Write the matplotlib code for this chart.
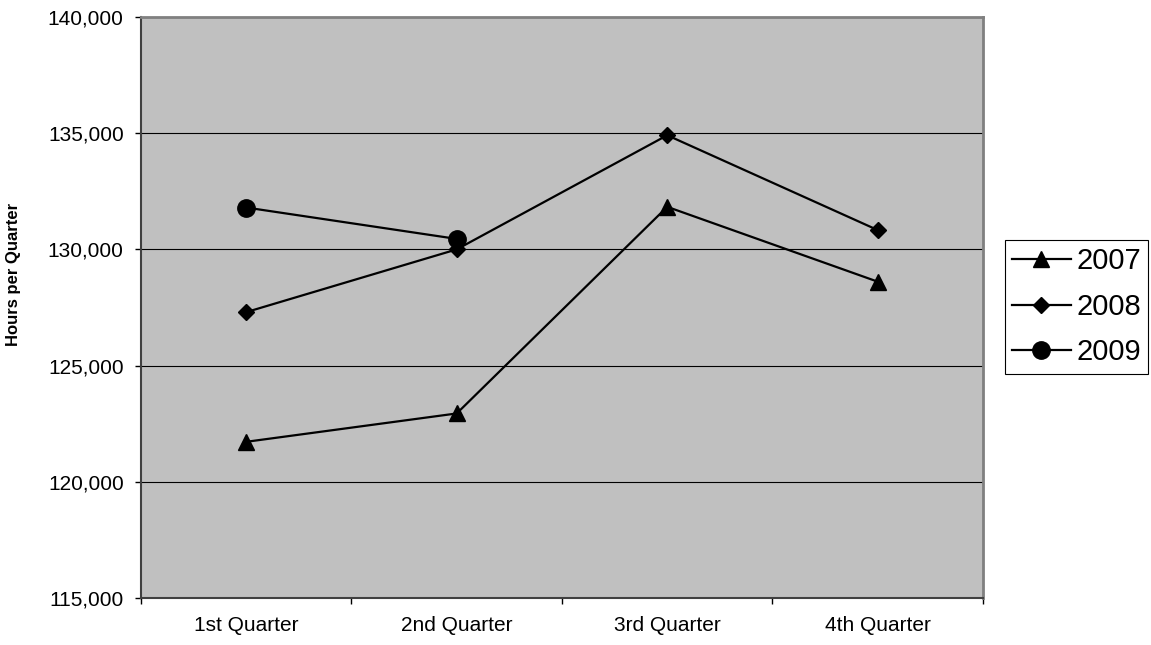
import matplotlib
matplotlib.use('Agg')
import matplotlib.pyplot as plt
from matplotlib.ticker import FuncFormatter, FixedLocator

plt.rcParams['font.family'] = ['Liberation Sans', 'DejaVu Sans']

quarters = ['1st Quarter', '2nd Quarter', '3rd Quarter', '4th Quarter']
hours_2007 = [121720, 122940, 131830, 128610]
hours_2008 = [127300, 130000, 134910, 130830]
hours_2009 = [131800, 130450]
y_ticks = [115000, 120000, 125000, 130000, 135000, 140000]

fig = plt.figure(figsize=(11.51, 6.45), dpi=100)
ax = fig.add_axes([0.1225, 0.0729, 0.7315, 0.9008])
ax.set_facecolor('#c0c0c0')

x = list(range(len(quarters)))
ax.plot(x, hours_2007, color='black', lw=1.6, marker='^', ms=12, label='2007', zorder=3)
ax.plot(x, hours_2008, color='black', lw=1.6, marker='D', ms=8.5, label='2008', zorder=3)
ax.plot(x[:len(hours_2009)], hours_2009, color='black', lw=1.6, marker='o', ms=12.5,
        label='2009', zorder=3)

ax.set_xlim(-0.5, 3.5)
ax.set_ylim(115000, 140000)
ax.set_yticks(y_ticks)
ax.yaxis.set_major_formatter(FuncFormatter(lambda v, p: f'{int(v):,}'))
ax.yaxis.grid(True, color='black', lw=0.8)
ax.set_axisbelow(True)

ax.set_xticks(x)
ax.set_xticklabels(quarters)
ax.xaxis.set_minor_locator(FixedLocator([-0.5, 0.5, 1.5, 2.5, 3.5]))
ax.tick_params(axis='x', which='major', length=0, pad=13, labelsize=15)
ax.tick_params(axis='x', which='minor', length=4.5, width=1, color='black')
ax.tick_params(axis='y', length=4.5, width=1, color='black', pad=8, labelsize=15)

ax.set_ylabel('Hours per Quarter', fontsize=12, fontweight='bold')
ax.yaxis.set_label_coords(-0.143, 0.557)

for side in ['top', 'right']:
    ax.spines[side].set_color('#808080')
    ax.spines[side].set_linewidth(2)
for side in ['left', 'bottom']:
    ax.spines[side].set_color('#404040')
    ax.spines[side].set_linewidth(1.5)

leg = ax.legend(loc='upper left', bbox_to_anchor=(0.8731, 0.6279),
                bbox_transform=fig.transFigure, borderaxespad=0,
                fontsize=21, frameon=True, fancybox=False, framealpha=1,
                edgecolor='black', handlelength=2.0, handletextpad=0.2,
                borderpad=0.25, labelspacing=0.6)
leg.get_frame().set_linewidth(0.8)

fig.savefig('out.png', dpi=100)
